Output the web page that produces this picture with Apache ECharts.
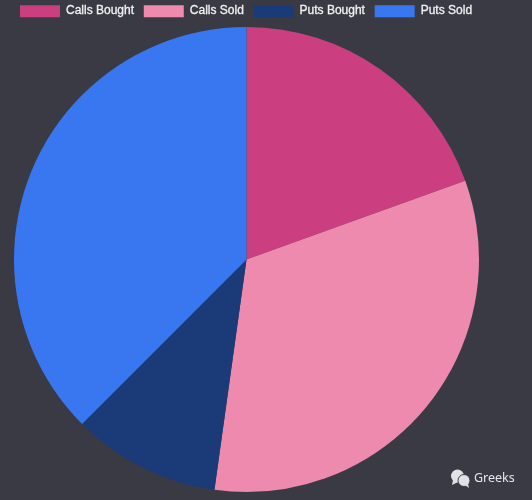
<!DOCTYPE html>
<html><head><meta charset="utf-8">
<style>html,body{margin:0;padding:0;background:#3a3a45}#c{width:532px;height:500px}</style>
<script src="https://cdn.jsdelivr.net/npm/echarts@6/dist/echarts.min.js"></script>
</head><body><div id="c"></div>
<script>
const categories = ['Calls Bought','Calls Sold','Puts Bought','Puts Sold'];
const values = [19.5, 32.7, 10.3, 37.5];
const colors = ['#cb3f80','#ee8aad','#1a3b78','#3877f0'];
const chart = echarts.init(document.getElementById('c'), null, {renderer:'canvas'});
chart.setOption({
  backgroundColor:'#3a3a45',
  animation:false,
  legend:{
    show:true, left:20, top:5, padding:0, itemWidth:40, itemHeight:12, itemGap:9.6,
    icon:'rect', selectedMode:false,
    textStyle:{color:'#f2f2f2', fontFamily:'Liberation Sans', fontSize:12, fontWeight:'normal',
      textBorderColor:'#f2f2f2', textBorderWidth:0.3, padding:[0,0,2,1]},
    data:categories
  },
  series:[{
    type:'pie', center:[246.5,259.5], radius:[0,232.5], startAngle:90, clockwise:true,
    label:{show:false}, labelLine:{show:false}, silent:true,
    itemStyle:{borderWidth:0},
    data:categories.map((n,i)=>({name:n,value:values[i],itemStyle:{color:colors[i]}}))
  }],
  graphic:[
    {type:'circle',shape:{cx:457.5,cy:476,r:6.5},style:{fill:'#e2e2e6',stroke:'#3a3a45',lineWidth:0}},
    {type:'polygon',shape:{points:[[453,480],[452,485],[458,482]]},style:{fill:'#e2e2e6'}},
    {type:'circle',shape:{cx:464,cy:480.5,r:6},style:{fill:'#e2e2e6',stroke:'#3a3a45',lineWidth:1}},
    {type:'polygon',shape:{points:[[465,485],[469,488],[468,484]]},style:{fill:'#e2e2e6'}},
    {type:'text',style:{x:474,y:471.5,text:'Greeks',fill:'#e6e6ea',font:'12.5px "Noto Sans"'}}
  ]
});
</script></body></html>
